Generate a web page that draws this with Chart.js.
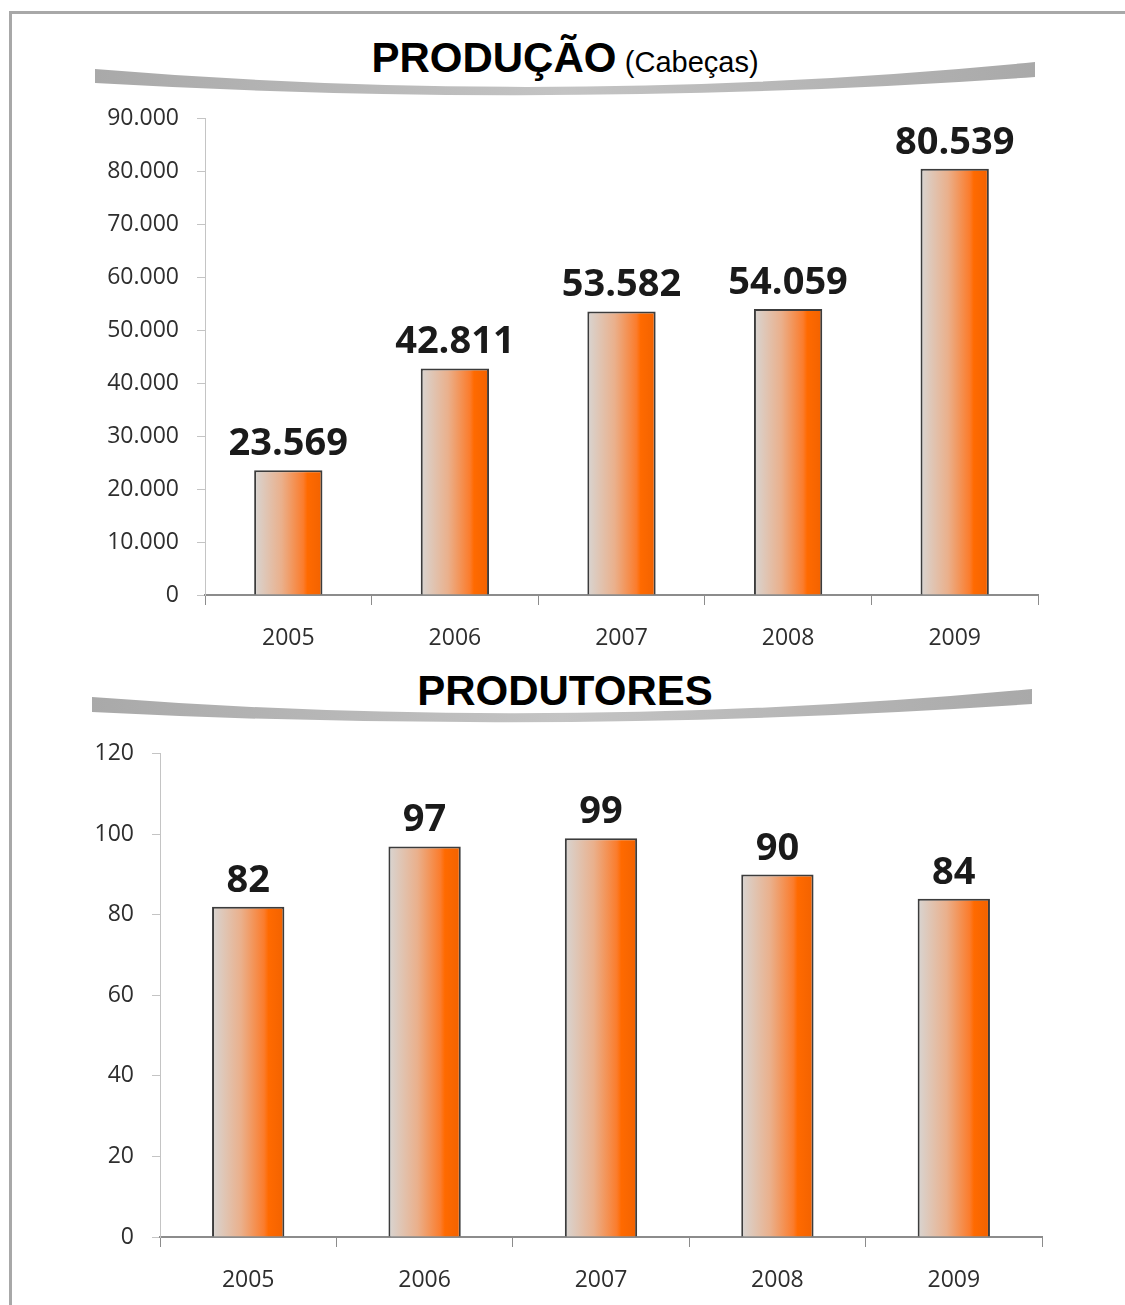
<!DOCTYPE html>
<html>
<head>
<meta charset="utf-8">
<script src="https://cdn.jsdelivr.net/npm/chart.js@4.4.1/dist/chart.umd.min.js"></script>
<style>
  html, body { margin: 0; padding: 0; background: #fff; }
  #page { position: relative; width: 1125px; height: 1305px; overflow: hidden; background: #fff; }
  #frame { position: absolute; left: 9px; top: 11px; width: 1130px; height: 1300px;
           border-top: 3px solid #a8a8a8; border-left: 3px solid #a8a8a8; }
  .box { position: absolute; left: 0; width: 1050px; }
  #boxTop { top: 87px; height: 573px; }
  #boxBottom { top: 722px; height: 583px; }
  .title { position: absolute; left: 0; width: 1130px; text-align: center;
           font-family: "Liberation Sans", Arial, sans-serif; color: #000; white-space: nowrap; }
  .title b { font-size: 42px; }
  .title span { font-size: 29px; margin-left: 4px; }
  #cut { position: absolute; left: 12px; top: 1288px; width: 1113px; height: 20px; background: #fff; }
  svg { position: absolute; left: 0; top: 0; }
</style>
</head>
<body>
<div id="page">
  <div id="frame"></div>
  <svg width="1125" height="760">
    <defs>
      <linearGradient id="sw" x1="0" x2="1" y1="0" y2="0">
        <stop offset="0" stop-color="#a9a9a9"/>
        <stop offset="0.5" stop-color="#c4c4c4"/>
        <stop offset="1" stop-color="#a9a9a9"/>
      </linearGradient>
    </defs>
    <path d="M95,69 Q565,108 1035,62 L1035,77 Q565,110 95,83 Z" fill="url(#sw)"/>
    <path d="M92,697 Q562,733 1032,689 L1032,704 Q562,736 92,712 Z" fill="url(#sw)"/>
  </svg>
  <div class="title" style="top:34px;"><b>PRODUÇÃO</b> <span>(Cabeças)</span></div>
  <div class="title" style="top:667px;"><b>PRODUTORES</b></div>
  <div class="box" id="boxTop"><canvas id="chartTop"></canvas></div>
  <div class="box" id="boxBottom"><canvas id="chartBottom"></canvas></div>
  <div id="cut"></div>
</div>

<script>
const years = ['2005', '2006', '2007', '2008', '2009']
const producao = [23569, 42811, 53582, 54059, 80539]
const produtores = [82, 97, 99, 90, 84]
const producaoTicks = [0, 10000, 20000, 30000, 40000, 50000, 60000, 70000, 80000, 90000]
const produtoresTicks = [0, 20, 40, 60, 80, 100, 120]

const BAR_PCT = 0.41

// 90000 -> "90.000"
function fmt(v) {
  return String(v).replace(/\B(?=(\d{3})+(?!\d))/g, '.')
}

function barGradient(c) {
  const chart = c.chart
  const xs = chart.scales.x
  if (!xs || !chart.chartArea) return '#ff6a00'
  const cx = xs.getPixelForValue(c.dataIndex)
  const w = xs.width / years.length * BAR_PCT
  const g = chart.ctx.createLinearGradient(cx - w / 2, 0, cx + w / 2, 0)
  g.addColorStop(0, '#d8d5d2')
  g.addColorStop(0.4, '#eab08c')
  g.addColorStop(0.72, '#fb7c2c')
  g.addColorStop(0.78, '#ff6a00')
  g.addColorStop(1, '#f26200')
  return g
}

const valueLabels = {
  id: 'valueLabels',
  afterDatasetsDraw(chart) {
    const ctx = chart.ctx
    const vals = chart.data.datasets[0].data
    ctx.save()
    ctx.font = 'bold 38px "Open Sans"'
    ctx.fillStyle = '#1a1a1a'
    ctx.textAlign = 'center'
    ctx.textBaseline = 'alphabetic'
    chart.getDatasetMeta(0).data.forEach((bar, i) => {
      ctx.fillText(fmt(vals[i]), bar.x, bar.y - 15)
    })
    ctx.restore()
  }
}

function makeChart(id, values, ticks, yWidth, xHeight, pad) {
  const tickFont = { family: 'Open Sans', size: 23 }
  return new Chart(document.getElementById(id), {
    type: 'bar',
    data: {
      labels: years,
      datasets: [{
        data: values,
        backgroundColor: barGradient,
        borderColor: '#3c3c3c',
        borderWidth: 2,
        borderSkipped: 'bottom',
        barPercentage: BAR_PCT,
        categoryPercentage: 1
      }]
    },
    options: {
      responsive: true,
      maintainAspectRatio: false,
      animation: false,
      layout: { padding: pad },
      plugins: { legend: { display: false }, tooltip: { enabled: false } },
      scales: {
        x: {
          grid: { drawOnChartArea: false, tickLength: 10, color: '#8c8c8c', offset: true },
          border: { color: '#8c8c8c', width: 2 },
          ticks: { font: tickFont, color: '#2e2e2e', padding: 20 },
          afterFit: (s) => { s.height = xHeight }
        },
        y: {
          min: 0,
          max: ticks[ticks.length - 1],
          afterBuildTicks: (s) => { s.ticks = ticks.map(v => ({ value: v })) },
          grid: { drawOnChartArea: false, tickLength: 8, color: '#c4c4c4' },
          border: { color: '#c4c4c4', width: 1 },
          ticks: { font: tickFont, color: '#2e2e2e', padding: 18, callback: (v) => fmt(v) },
          afterFit: (s) => { s.width = yWidth }
        }
      }
    },
    plugins: [valueLabels]
  })
}

makeChart('chartTop', producao, producaoTicks, 205, 65, { top: 4, right: 12, left: 0, bottom: 0 })
makeChart('chartBottom', produtores, produtoresTicks, 160, 68, { top: 14, right: 8, left: 0, bottom: 0 })
</script>
</body>
</html>
